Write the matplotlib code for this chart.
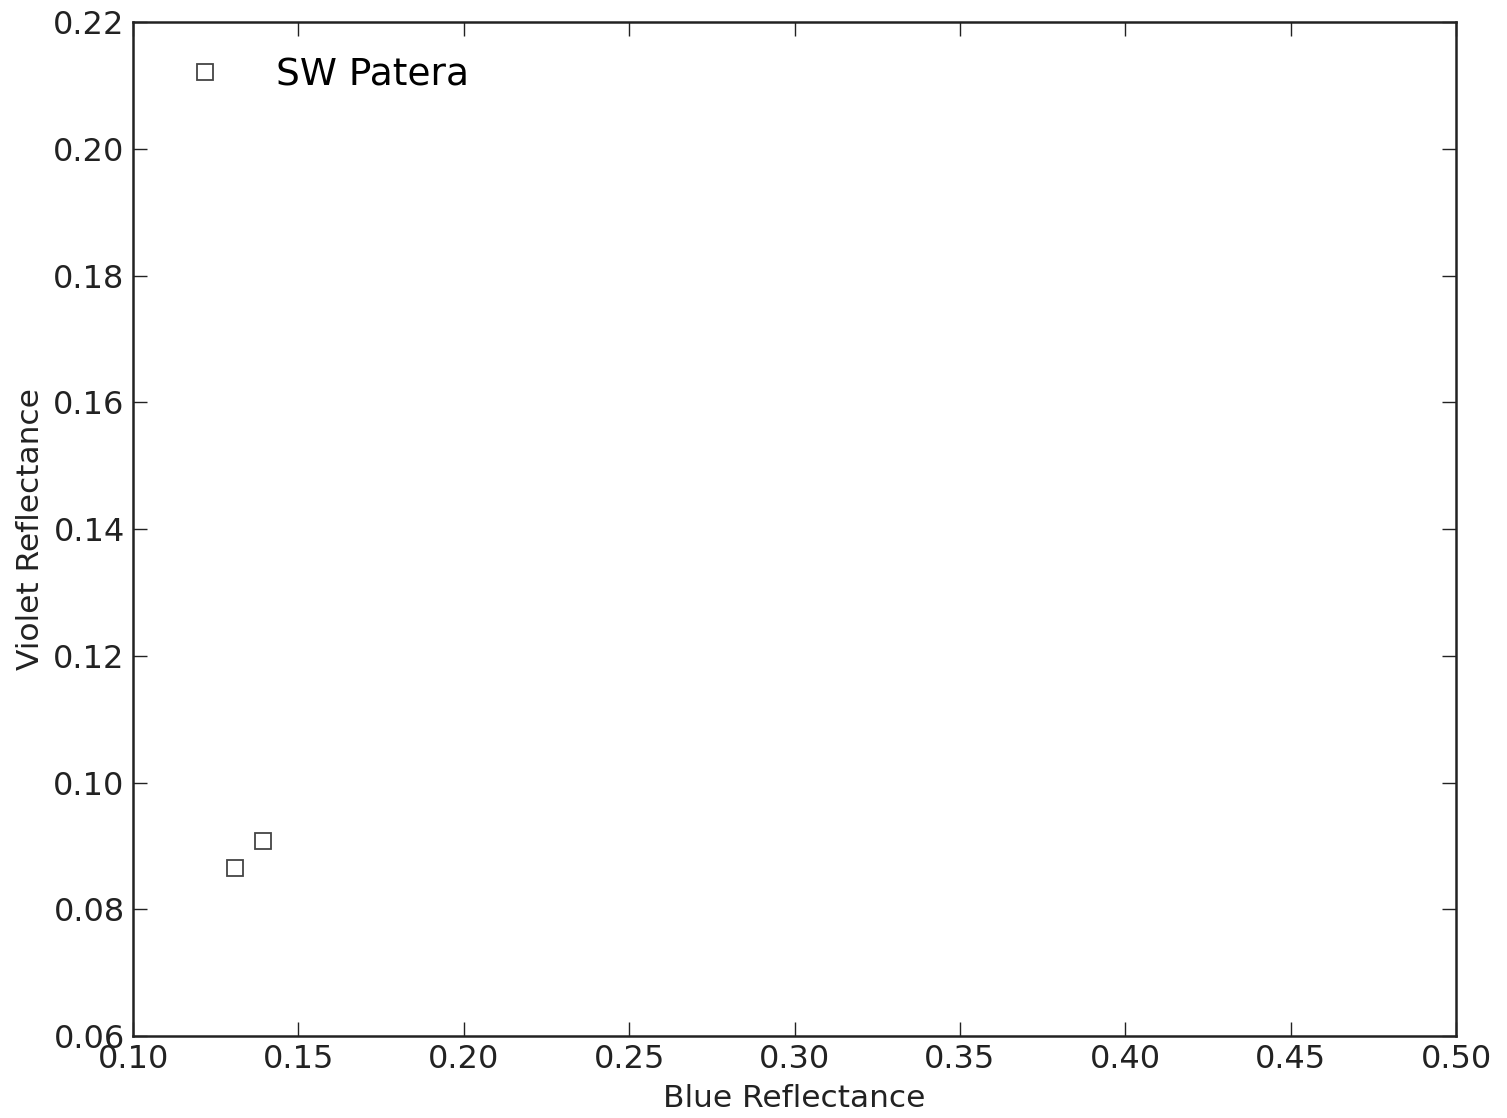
import matplotlib
matplotlib.use('Agg')
import matplotlib.pyplot as plt

# SW Patera points
blue_refl = [0.1308, 0.1393]
violet_refl = [0.0865, 0.0908]
series_name = 'SW Patera'

x_ticks = [0.10, 0.15, 0.20, 0.25, 0.30, 0.35, 0.40, 0.45, 0.50]
y_ticks = [0.06, 0.08, 0.10, 0.12, 0.14, 0.16, 0.18, 0.20, 0.22]

fig = plt.figure(figsize=(15.07, 11.18), dpi=100)
ax = fig.add_axes([0.0883, 0.0733, 0.8779, 0.9067])

ax.plot(blue_refl, violet_refl, linestyle='none', marker='s', markersize=11,
        markerfacecolor='white', markeredgecolor='#444444', markeredgewidth=1.3,
        label=series_name)

ax.set_xlim(0.10, 0.50)
ax.set_ylim(0.06, 0.22)
ax.set_xticks(x_ticks)
ax.set_yticks(y_ticks)
ax.set_xticklabels(['%.2f' % v for v in x_ticks])
ax.set_yticklabels(['%.2f' % v for v in y_ticks])
ax.tick_params(direction='in', top=True, right=True, length=10, width=1,
               labelsize=23, pad=6, colors='#222222')
for s in ax.spines.values():
    s.set_linewidth(1.8)
    s.set_color('#222222')

ax.set_xlabel('Blue Reflectance', fontsize=22.5, labelpad=6, color='#222222')
ax.set_ylabel('Violet Reflectance', fontsize=22.5, labelpad=6, color='#222222')

ax.legend(loc='upper left', frameon=False, numpoints=1, fontsize=27,
          handlelength=1.6, handletextpad=1.1, borderaxespad=0.5,
          bbox_to_anchor=(0.006, 0.999))

fig.savefig('out.png', dpi=100)
